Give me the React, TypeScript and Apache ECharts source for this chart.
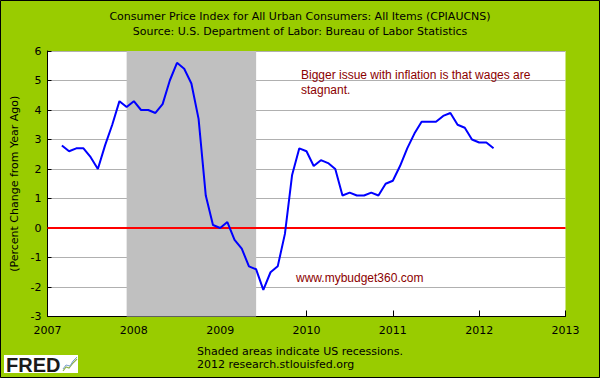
import React, { useEffect, useRef } from "react";
import * as echarts from "echarts";

const startYear = 2007;
const startMonth = 3; // March 2007
const cpiYoY = [
  2.8, 2.6, 2.7, 2.7, 2.4, 2.0, 2.8, 3.5, 4.3, 4.1,
  4.3, 4.0, 4.0, 3.9, 4.2, 5.0, 5.6, 5.4, 4.9, 3.7, 1.1, 0.1,
  0.0, 0.2, -0.4, -0.7, -1.3, -1.4, -2.1, -1.5, -1.3, -0.2, 1.8, 2.7,
  2.6, 2.1, 2.3, 2.2, 2.0, 1.1, 1.2, 1.1, 1.1, 1.2, 1.1, 1.5,
  1.6, 2.1, 2.7, 3.2, 3.6, 3.6, 3.6, 3.8, 3.9, 3.5, 3.4, 3.0,
  2.9, 2.9, 2.7,
];
const recessions = [[2007 + 11 / 12, 2009 + 5 / 12]];
const xTicks = [2007, 2008, 2009, 2010, 2011, 2012, 2013];
const yTicks = [-3, -2, -1, 0, 1, 2, 3, 4, 5, 6];
const titleLines = [
  "Consumer Price Index for All Urban Consumers: All Items (CPIAUCNS)",
  "Source: U.S. Department of Labor: Bureau of Labor Statistics",
];
const yAxisName = "(Percent Change from Year Ago)";
const noteLines = ["Bigger issue with inflation is that wages are", "stagnant."];
const siteNote = "www.mybudget360.com";
const footerLines = ["Shaded areas indicate US recessions.", "2012 research.stlouisfed.org"];

export default function App() {
  const ref = useRef<HTMLDivElement>(null);
  useEffect(() => {
    if (!ref.current) return;
    const chart = echarts.init(ref.current, null, { renderer: "svg" });
    const seriesData = cpiYoY.map((v, i) => [startYear + (startMonth - 1 + i) / 12, v]);
    const vf = "DejaVu Sans, Verdana, sans-serif";
    chart.setOption({
      animation: false,
      backgroundColor: "#99cc00",
      grid: { left: 47.5, right: 34.5, top: 51, bottom: 61.5, show: true, backgroundColor: "#ffffff", borderWidth: 0 },
      title: {
        text: titleLines.join("\n"),
        left: "center",
        top: 4,
        textStyle: { fontFamily: vf, fontSize: 11, fontWeight: "normal", color: "#000", lineHeight: 15 },
      },
      xAxis: {
        type: "value",
        min: xTicks[0],
        max: xTicks[xTicks.length - 1],
        interval: 1,
        axisLine: { show: true, onZero: false, lineStyle: { color: "#000", width: 1 } },
        axisTick: { show: true, inside: true, length: 6, lineStyle: { color: "#000" } },
        axisLabel: { fontFamily: vf, fontSize: 11, color: "#000", margin: 8, formatter: (v: number) => String(v) },
        splitLine: { show: false },
      },
      yAxis: {
        type: "value",
        min: yTicks[0],
        max: yTicks[yTicks.length - 1],
        interval: 1,
        name: yAxisName,
        nameLocation: "middle",
        nameRotate: 90,
        nameGap: 25,
        nameTextStyle: { fontFamily: vf, fontSize: 11, color: "#000" },
        axisLine: { show: true, onZero: false, lineStyle: { color: "#000", width: 1 } },
        axisTick: { show: true, inside: true, length: 4, lineStyle: { color: "#000" } },
        axisLabel: { fontFamily: vf, fontSize: 11, color: "#000", margin: 6 },
        splitLine: { show: true, lineStyle: { color: "#b0b0b0", width: 1 } },
      },
      series: [
        {
          type: "line",
          data: seriesData,
          showSymbol: false,
          symbol: "none",
          lineStyle: { color: "#0000ff", width: 2 },
          z: 5,
          markArea: {
            silent: true,
            itemStyle: { color: "#c0c0c0" },
            data: recessions.map((r) => [{ xAxis: r[0] }, { xAxis: r[1] }]),
          },
          markLine: {
            silent: true,
            symbol: "none",
            label: { show: false },
            lineStyle: { color: "#ff0000", width: 2, type: "solid" },
            data: [{ yAxis: 0 }],
          },
        },
      ],
      graphic: [
        {
          type: "text",
          left: 301,
          top: 67,
          style: {
            text: noteLines.join("\n"),
            fill: "#8b0000",
            font: "12px 'Liberation Sans', Arial, sans-serif",
            lineHeight: 15,
          },
          z: 10,
        },
        {
          type: "text",
          left: 296,
          top: 272,
          style: { text: siteNote, fill: "#8b0000", font: "12px 'Liberation Sans', Arial, sans-serif" },
          z: 10,
        },
        {
          type: "text",
          left: "center",
          top: 345,
          style: {
            text: footerLines.join("\n"),
            fill: "#000",
            font: "11px 'DejaVu Sans', Verdana, sans-serif",
            lineHeight: 13,
            align: "center",
          },
          z: 10,
        },
        { type: "rect", shape: { x: 4, y: 355, width: 74, height: 18 }, style: { fill: "#ffffff" }, z: 10 },
        {
          type: "text",
          left: 6,
          top: 355,
          style: { text: "FRED", fill: "#1a1a1a", font: "900 20px 'Liberation Sans', Arial, sans-serif" },
          z: 11,
        },
        {
          type: "polyline",
          shape: { points: [[63, 371], [66, 367], [69, 368], [73, 363], [77, 359]] },
          style: { stroke: "#8fb34a", lineWidth: 1.2, fill: "none" },
          z: 11,
        },
        {
          type: "polyline",
          shape: { points: [[63, 369], [66, 365], [70, 366], [73, 361], [77, 357]] },
          style: { stroke: "#7aa0d0", lineWidth: 1, fill: "none" },
          z: 11,
        },
        {
          type: "rect",
          shape: { x: 0.5, y: 0.5, width: 599, height: 377 },
          style: { fill: "none", stroke: "#000", lineWidth: 1 },
          z: 20,
        },
      ],
    });
    return () => chart.dispose();
  }, []);
  return <div ref={ref} style={{ position: "fixed", left: 0, top: 0, width: 600, height: 378 }} />;
}
